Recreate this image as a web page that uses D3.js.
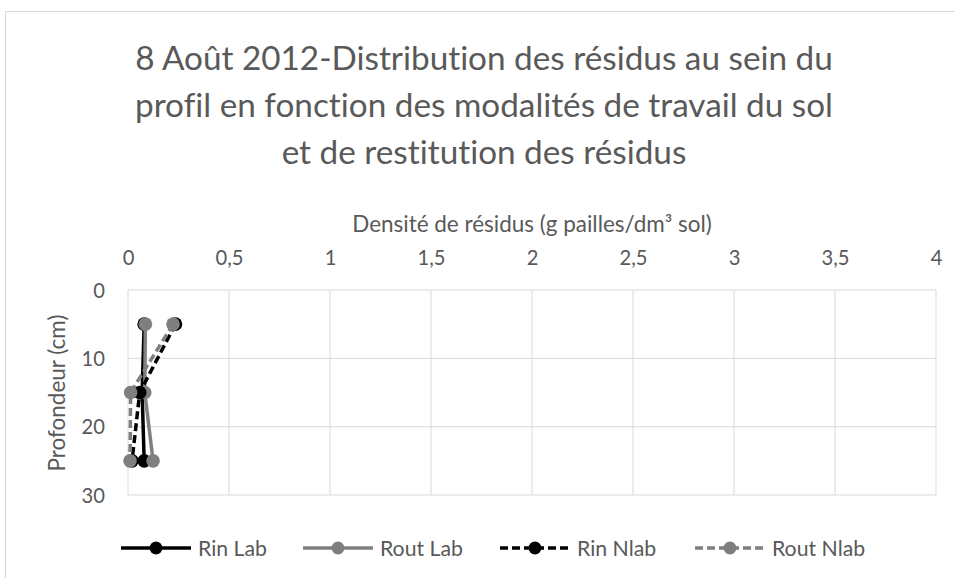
<!DOCTYPE html>
<html lang="fr">
<head>
    <meta charset="UTF-8">
    <title>Distribution des résidus</title>
    <style>
        body { margin: 0; background: #fff; }
        text { font-family: Lato, "Open Sans", sans-serif; fill: #595959; font-variant-ligatures: none; }
    </style>
</head>
<body>
<div id="chart"></div>
<script src="https://cdn.jsdelivr.net/npm/d3@7"></script>
<script>
    // données
    const depths = [5, 15, 25];
    const rinLab = [0.08, 0.07, 0.08];
    const routLab = [0.086, 0.083, 0.124];
    const rinNlab = [0.235, 0.058, 0.02];
    const routNlab = [0.223, 0.013, 0.01];
    const seriesNames = ["Rin Lab", "Rout Lab", "Rin Nlab", "Rout Nlab"];
    const xTicks = [0, 0.5, 1, 1.5, 2, 2.5, 3, 3.5, 4];
    const yTicks = [0, 10, 20, 30];
    const titleLines = [
        "8 Août 2012-Distribution des résidus au sein du",
        "profil en fonction des modalités de travail du sol",
        "et de restitution des résidus"
    ];

    const width = 955, height = 578;

    const series = [
        {name: seriesNames[0], values: rinLab, color: "#000000", dash: null},
        {name: seriesNames[1], values: routLab, color: "#7f7f7f", dash: null},
        {name: seriesNames[2], values: rinNlab, color: "#000000", dash: "8,4"},
        {name: seriesNames[3], values: routNlab, color: "#7f7f7f", dash: "8,4"}
    ];

    let svg = d3.select("#chart")
        .append("svg")
        .attr("width", width)
        .attr("height", height);

    // taille de police ajustée pour une largeur donnée
    function fitSize(str, target) {
        let t = svg.append("text").style("font-size", "20px").text(str);
        let w = t.node().getComputedTextLength();
        t.remove();
        return 20 * target / w;
    }
    const titleSize = fitSize(titleLines[0], 698);
    const tickSize = fitSize("0,5", 28);
    const axisTitleSize = fitSize("Profondeur (cm)", 157);
    const legendSize = fitSize("Rin Lab", 69);

    // cadre du graphique
    svg.append("rect")
        .attr("x", 5.5).attr("y", 11.5)
        .attr("width", 1000).attr("height", 1000)
        .attr("fill", "none")
        .attr("stroke", "#d9d9d9");

    var x = d3.scaleLinear().domain([0, 4]).range([128, 936]);
    var y = d3.scaleLinear().domain([0, 30]).range([290, 495]);

    var formatNumber = d => String(d).replace(".", ",");

    // titre
    svg.append("g").selectAll("text")
        .data(titleLines)
        .join("text")
        .attr("x", 484)
        .attr("y", (d, i) => 70 + i * 47)
        .attr("text-anchor", "middle")
        .style("font-size", titleSize + "px")
        .text(d => d);

    // grille
    let grid = svg.append("g");
    grid.selectAll("line.v")
        .data(xTicks)
        .join("line")
        .attr("class", "v")
        .attr("x1", d => x(d)).attr("x2", d => x(d))
        .attr("y1", y(0)).attr("y2", y(30))
        .attr("stroke", "#d9d9d9");
    grid.selectAll("line.h")
        .data(yTicks)
        .join("line")
        .attr("class", "h")
        .attr("x1", x(0)).attr("x2", x(4))
        .attr("y1", d => y(d)).attr("y2", d => y(d))
        .attr("stroke", "#d9d9d9");

    // axe X (en haut)
    let xAxis = d3.axisTop(x).tickValues(xTicks).tickFormat(formatNumber).tickSize(0).tickPadding(0);
    let gx = svg.append("g").attr("transform", "translate(0,265)").call(xAxis);
    gx.select(".domain").remove();
    gx.selectAll(".tick text")
        .attr("dy", null)
        .style("font-size", tickSize + "px").attr("fill", "#595959").attr("font-family", null);

    // axe Y
    let yAxis = d3.axisLeft(y).tickValues(yTicks).tickSize(0).tickPadding(0);
    let gy = svg.append("g").attr("transform", "translate(105,0)").call(yAxis);
    gy.select(".domain").remove();
    gy.selectAll(".tick text")
        .attr("dy", "0.35em")
        .style("font-size", tickSize + "px").attr("fill", "#595959").attr("font-family", null);

    // titres des axes
    svg.append("text")
        .attr("x", 532).attr("y", 232)
        .attr("text-anchor", "middle")
        .style("font-size", axisTitleSize + "px")
        .text("Densité de résidus (g pailles/dm³ sol)");
    svg.append("text")
        .attr("transform", "translate(65,393) rotate(-90)")
        .attr("text-anchor", "middle")
        .style("font-size", axisTitleSize + "px")
        .text("Profondeur (cm)");

    // séries
    let line = d3.line().x(d => x(d.v)).y(d => y(d.depth));
    series.forEach(s => {
        let pts = s.values.map((v, i) => ({v: v, depth: depths[i]}));
        let g = svg.append("g");
        g.append("path")
            .attr("d", line(pts))
            .attr("fill", "none")
            .attr("stroke", s.color)
            .attr("stroke-width", 3.5)
            .attr("stroke-dasharray", s.dash);
        g.selectAll("circle")
            .data(pts)
            .join("circle")
            .attr("cx", d => x(d.v))
            .attr("cy", d => y(d.depth))
            .attr("r", 6.8)
            .attr("fill", s.color);
    });

    // légende
    const legendX = [121, 303, 500, 695];
    let legend = svg.append("g").selectAll("g")
        .data(series)
        .join("g")
        .attr("transform", (d, i) => `translate(${legendX[i]},548)`);
    legend.append("line")
        .attr("x1", 0).attr("x2", 70)
        .attr("stroke", d => d.color)
        .attr("stroke-width", 3.5)
        .attr("stroke-dasharray", d => d.dash);
    legend.append("circle")
        .attr("cx", 35).attr("r", 6.5)
        .attr("fill", d => d.color);
    legend.append("text")
        .attr("x", 77).attr("y", 7.5)
        .style("font-size", legendSize + "px")
        .text(d => d.name);
</script>
</body>
</html>
